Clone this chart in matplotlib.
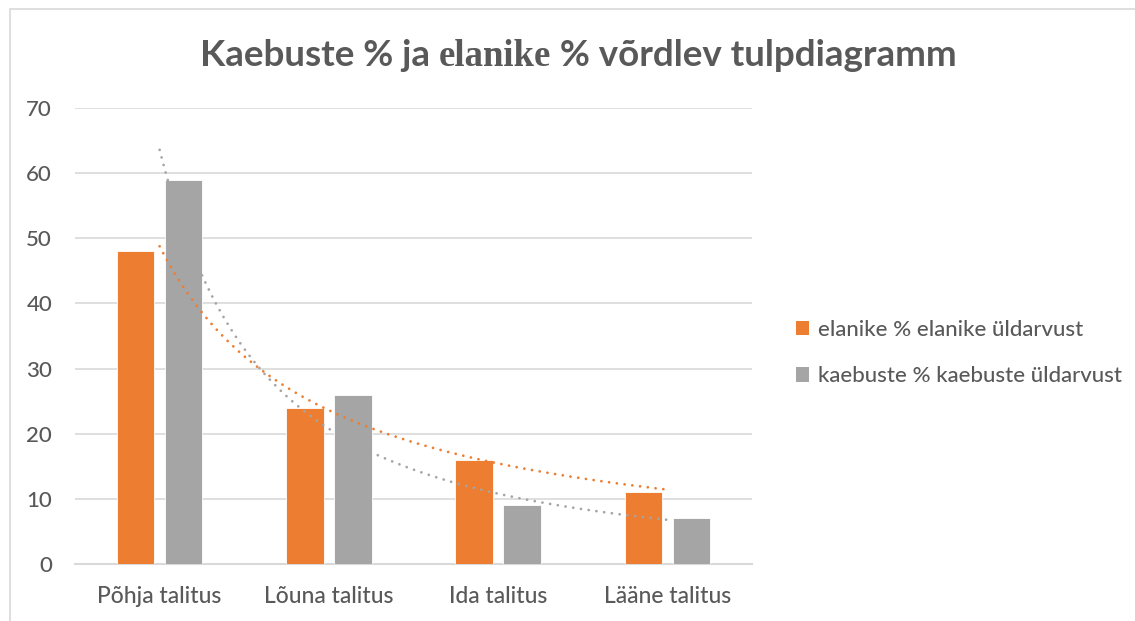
import numpy as np
import matplotlib
matplotlib.use("Agg")
import matplotlib.pyplot as plt
from matplotlib.patches import Rectangle, Patch

categories = ["Põhja talitus", "Lõuna talitus", "Ida talitus", "Lääne talitus"]
elanike = [48, 24, 16, 11]
kaebuste = [59, 26, 9, 7]
series_names = ["elanike % elanike üldarvust", "kaebuste % kaebuste üldarvust"]
yticks = [0, 10, 20, 30, 40, 50, 60, 70]

ORANGE = "#ED7D31"
GRAY = "#A5A5A5"
TXT = "#595959"
FONT = ["Lato", "DejaVu Sans"]

W, H = 1135, 621
fig = plt.figure(figsize=(W / 100, H / 100), dpi=100)
fig.patch.set_facecolor("white")

# chart border (cut off at right/bottom)
fig.patches.append(Rectangle((10 / W, -0.1), 1.2, 1 - 9 / H + 0.1, transform=fig.transFigure,
                             fill=False, edgecolor="#D9D9D9", linewidth=1.2))

ax = fig.add_axes([75 / W, 1 - 564 / H, (752 - 75) / W, (564 - 108) / H])
x = np.arange(len(categories))
bw = 0.222
off = 0.142
ax.bar(x - off, elanike, width=bw, color=ORANGE, edgecolor="white", linewidth=0.6, zorder=3)
ax.bar(x + off, kaebuste, width=bw, color=GRAY, edgecolor="white", linewidth=0.6, zorder=3)

# power trendlines fitted to the data (Excel style, x = 1..n)
xs = np.linspace(1, len(categories), 200)
for vals, col in [(elanike, ORANGE), (kaebuste, GRAY)]:
    b, lna = np.polyfit(np.log(np.arange(1, len(vals) + 1)), np.log(vals), 1)
    ys = np.exp(lna) * xs ** b
    ax.plot(xs - 1, ys, color=col, linewidth=2.0, linestyle=(0, (0.01, 2.8)),
            dash_capstyle="round", zorder=4)

ax.set_xlim(-0.5, len(categories) - 0.5)
ax.set_ylim(0, 70)
ax.set_yticks(yticks)
ax.set_yticklabels([str(v) for v in yticks])
ax.set_xticks(x)
ax.set_xticklabels(categories)
ax.grid(axis="y", color="#D9D9D9", linewidth=1.2, zorder=0)
ax.set_axisbelow(True)
for s in ["top", "right", "left"]:
    ax.spines[s].set_visible(False)
ax.spines["bottom"].set_color("#D9D9D9")
ax.spines["bottom"].set_linewidth(1.5)
ax.tick_params(axis="both", length=0, colors=TXT)
ax.tick_params(axis="y", pad=16.5, labelsize=16)
ax.tick_params(axis="x", pad=16, labelsize=16.5)
for lab in ax.get_xticklabels() + ax.get_yticklabels():
    lab.set_family(FONT)
    lab.set_color(TXT)
    lab.set_fontweight("medium")

# legend
handles = [Patch(facecolor=ORANGE), Patch(facecolor=GRAY)]
leg = fig.legend(handles, series_names, loc="center left",
                 bbox_to_anchor=(776 / W, 1 - 353 / H), frameon=False,
                 prop={"family": FONT, "size": 16, "weight": "medium"},
                 handlelength=0.6, handleheight=0.6,
                 handletextpad=0.4, labelspacing=1.2)
for t in leg.get_texts():
    t.set_color(TXT)

# title built from pieces (the word "elanike" in a serif face)
pieces = [("Kaebuste % ja ", FONT, 26.5),
          ("elanike", ["Liberation Serif", "DejaVu Serif"], 26.5),
          (" % võrdlev tulpdiagramm", FONT, 26.5)]
renderer = fig.canvas.get_renderer()
texts = []
total = 0
for s, fam, sz in pieces:
    t = fig.text(0, 1 - 66 / H, s, family=fam, fontsize=sz, fontweight="bold",
                 color=TXT, va="baseline", ha="left")
    w = t.get_window_extent(renderer).width
    texts.append((t, w))
    total += w
cur = 578 - total / 2
for t, w in texts:
    t.set_x(cur / W)
    cur += w

fig.savefig("out.png", dpi=100, facecolor="white")
